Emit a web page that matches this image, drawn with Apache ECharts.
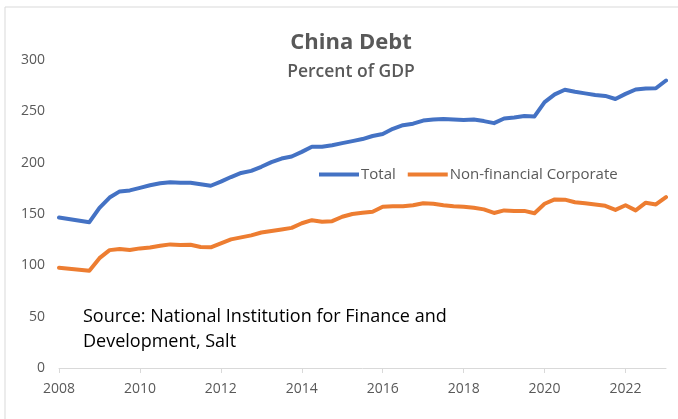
<!DOCTYPE html>
<html>
<head>
<meta charset="utf-8">
<script src="https://cdn.jsdelivr.net/npm/echarts@6/dist/echarts.min.js"></script>
<style>html,body{margin:0;padding:0;background:#fff;}#c{width:678px;height:419px;}</style>
</head>
<body>
<div id="c"></div>
<script>
var dates = [2008.0, 2008.75, 2009.0, 2009.25, 2009.5, 2009.75, 2010.0, 2010.25, 2010.5, 2010.75,
  2011.0, 2011.25, 2011.5, 2011.75, 2012.0, 2012.25, 2012.5, 2012.75, 2013.0, 2013.25,
  2013.5, 2013.75, 2014.0, 2014.25, 2014.5, 2014.75, 2015.0, 2015.25, 2015.5, 2015.75,
  2016.0, 2016.25, 2016.5, 2016.75, 2017.0, 2017.25, 2017.5, 2017.75, 2018.0, 2018.25,
  2018.5, 2018.75, 2019.0, 2019.25, 2019.5, 2019.75, 2020.0, 2020.25, 2020.5, 2020.75,
  2021.0, 2021.25, 2021.5, 2021.75, 2022.0, 2022.25, 2022.5, 2022.75, 2023.0];
var total = [146.5, 142, 156, 166, 172, 173, 175.5, 178, 180, 181,
  180.5, 180.5, 179, 177.5, 181.5, 186, 190, 192, 196, 200.5,
  204, 206, 210.5, 215.5, 215.5, 217, 219, 221, 223, 226,
  228, 233, 236.5, 238, 241, 242, 242.5, 242, 241.5, 242,
  240.5, 238.5, 243, 244, 245.5, 245, 259, 266.5, 271, 269,
  267.5, 266, 265, 262, 267, 271.3, 272.3, 272.5, 280];
var corporate = [97.7, 94.8, 107, 114.8, 116, 115, 116.5, 117.3, 119, 120.4,
  119.8, 120, 117.8, 117.5, 121.4, 125.3, 127.2, 129.2, 132, 133.5,
  135, 136.5, 141, 144, 142.5, 143, 147.3, 150, 151.2, 152.2,
  157, 157.5, 157.5, 158.5, 160.5, 160, 158.5, 157.5, 157, 156,
  154.5, 151, 153.5, 153, 153, 150.8, 160, 164.2, 164, 161.5,
  160.5, 159.3, 158, 154, 158.5, 153.5, 161, 159.3, 166.5];
var xTicks = [2008, 2010, 2012, 2014, 2016, 2018, 2020, 2022];
var yTicks = [0, 50, 100, 150, 200, 250, 300];
var seriesNames = ['Total', 'Non-financial Corporate'];
var titleText = 'China Debt';
var subtitleText = 'Percent of GDP';
var sourceLines = ['Source: National Institution for Finance and', 'Development, Salt'];

function pairs(xs, ys) { return xs.map(function (x, i) { return [x, ys[i]]; }); }

var FONT = "'Open Sans', 'Noto Sans', sans-serif";
var chart = echarts.init(document.getElementById('c'), null, {renderer: 'canvas'});
chart.setOption({
  animation: false,
  backgroundColor: '#fff',
  textStyle: {fontFamily: FONT},
  graphic: [
    {type: 'rect', shape: {x: 5, y: 7, width: 720, height: 460}, style: {fill: 'none', stroke: '#d9d9d9', lineWidth: 1}, z: -1},
    {type: 'text', left: 83, top: 304, style: {text: sourceLines.join('\n'), font: '18px ' + FONT, fill: '#000', lineHeight: 25}}
  ],
  title: {
    text: titleText,
    subtext: subtitleText,
    left: 346, top: 27, textAlign: 'center',
    itemGap: 9,
    textStyle: {fontSize: 22, fontWeight: 'bold', color: '#595959', fontFamily: FONT},
    subtextStyle: {fontSize: 17.5, fontWeight: 600, color: '#595959', fontFamily: FONT}
  },
  legend: {
    data: seriesNames,
    left: 314, top: 162,
    icon: 'rect', itemWidth: 40, itemHeight: 4, itemGap: 12,
    textStyle: {fontSize: 15, color: '#595959', fontFamily: FONT, padding: [0, 0, 0, -3]}
  },
  grid: {left: 59, right: 12, top: 60, bottom: 51},
  xAxis: {
    type: 'value', min: 2008, max: 2023, interval: 2,
    axisLine: {show: true, lineStyle: {color: '#d9d9d9', width: 1}},
    axisTick: {show: true, length: 5, lineStyle: {color: '#d9d9d9'}, customValues: xTicks},
    axisLabel: {color: '#595959', fontSize: 14, margin: 14, customValues: xTicks, fontFamily: FONT,
      formatter: function (v) { return String(v); }},
    splitLine: {show: false}
  },
  yAxis: {
    type: 'value', min: 0, max: 300, interval: 50,
    axisLine: {show: false}, axisTick: {show: false},
    axisLabel: {color: '#595959', fontSize: 14, margin: 14, customValues: yTicks, fontFamily: FONT},
    splitLine: {show: false}
  },
  series: [
    {name: seriesNames[0], type: 'line', data: pairs(dates, total), showSymbol: false, symbol: 'none',
     color: '#4472C4', lineStyle: {width: 4, color: '#4472C4', cap: 'round', join: 'round'}},
    {name: seriesNames[1], type: 'line', data: pairs(dates, corporate), showSymbol: false, symbol: 'none',
     color: '#ED7D31', lineStyle: {width: 4, color: '#ED7D31', cap: 'round', join: 'round'}}
  ]
});
</script>
</body>
</html>
